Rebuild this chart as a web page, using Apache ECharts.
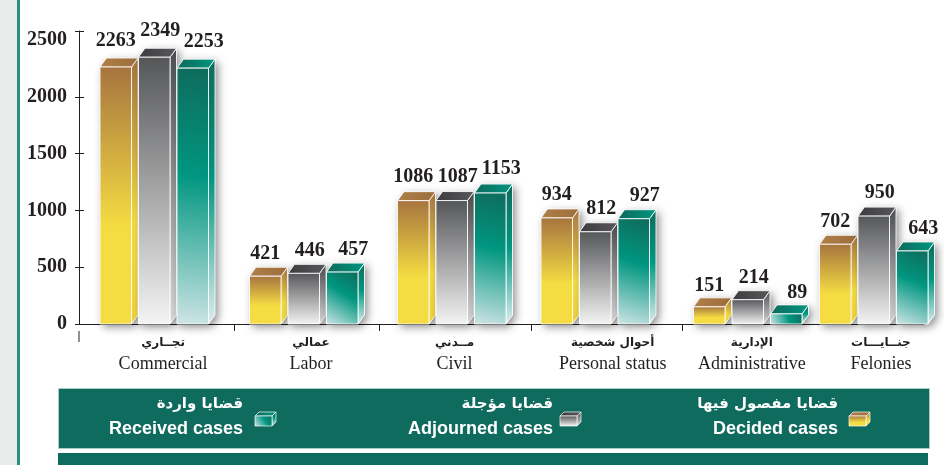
<!DOCTYPE html>
<html>
<head>
<meta charset="utf-8">
<style>html,body{margin:0;padding:0;background:#fff}#c{width:944px;height:465px}</style>
<script src="https://cdn.jsdelivr.net/npm/echarts@6/dist/echarts.min.js"></script>
</head>
<body>
<div id="c"></div>
<script>
const categoriesEn = ['Commercial','Labor','Civil','Personal status','Administrative','Felonies'];
const categoriesAr = ['تجــاري','عمالي','مــدني','أحوال شخصية','الإدارية','جنــايـــات'];
const decided   = [2263,421,1086,934,151,702];
const adjourned = [2349,446,1087,812,214,950];
const received  = [2253,457,1153,927,89,643];
const yTicks = [0,500,1000,1500,2000,2500];
const seriesEn = ['Decided cases','Adjourned cases','Received cases'];
const seriesAr = ['قضايا مفصول فيها','قضايا مؤجلة','قضايا واردة'];

const serif = '"Liberation Serif","Times New Roman",serif';
const arab = '"DejaVu Sans",sans-serif';
const ink = '#231F20';
const AXIS_TOP = 2580;
const slotNudge = [0,.03,.05,.04,.09,-.04];
const labelNudge = [.06,.08,.07,.16,.12,.01];
const slotTicks = [.55,1.55,2.6,3.64];
const valueLabelDx = [0,6,11];
const GAP = 38.5, W = 31.5, DX = 6.5, DY = 9;

const lin = (x,y,x2,y2,stops)=>({type:'linear',x,y,x2,y2,colorStops:stops.map(s=>({offset:s[0],color:s[1]}))});
const looks = [
 {front:lin(0,0,0,1,[[0,'#A6743F'],[.62,'#F5DC42'],[1,'#F5DC42']]),
  side:lin(0,0,0,1,[[0,'#A6743F'],[.62,'#F5DC42'],[1,'#F0D23C']]),
  top:lin(0,0,1,0,[[0,'#B08048'],[1,'#9C6C3C']])},
 {front:lin(0,0,0,1,[[0,'#555658'],[1,'#F4F4F4']]),
  side:lin(0,0,0,1,[[0,'#4B4C4E'],[1,'#D8D8DA']]),
  top:lin(0,0,1,0,[[0,'#3C3C3E'],[1,'#58585A']])},
 {front:lin(1,0,0,1,[[0,'#0F6B5C'],[.42,'#009680'],[1,'#CFE5E6']]),
  side:lin(0,0,0,1,[[0,'#0F6B5C'],[.45,'#009680'],[1,'#DDEEF0']]),
  top:lin(0,0,1,0,[[0,'#0E6A5C'],[1,'#009680']])}
];

function barItem(k){
  return function(params, api){
    const i = api.value(0), v = api.value(1);
    const p = api.coord([i + slotNudge[i], v]);
    const b = api.coord([i + slotNudge[i], 0]);
    const x = Math.round((p[0] + (k-1)*GAP - W/2)*2)/2, y = p[1], r = x + W, h = b[1]-y;
    const look = looks[k], edge = {stroke:'rgba(255,255,255,.85)', lineWidth:1};
    return {type:'group', children:[
      {type:'polygon', shape:{points:[[x,b[1]],[x,y],[x+DX,y-DY],[r+DX,y-DY],[r+DX,b[1]-DY],[r,b[1]]]},
       style:{fill:'#fff', shadowBlur:8, shadowColor:'rgba(0,0,0,.45)', shadowOffsetX:3, shadowOffsetY:3}},
      {type:'polygon', shape:{points:[[r,y],[r+DX,y-DY],[r+DX,b[1]-DY],[r,b[1]]]}, style:Object.assign({fill:look.side},edge)},
      {type:'polygon', shape:{points:[[x,y],[x+DX,y-DY],[r+DX,y-DY],[r,y]]}, style:Object.assign({fill:look.top},edge)},
      {type:'rect', shape:{x:x,y:y,width:W,height:h}, style:Object.assign({fill:look.front},edge)},
      {type:'text', x:x+W/2+valueLabelDx[k], y:y-21-v/400, style:{text:String(v), fill:ink, font:'bold 20px '+serif, align:'center', verticalAlign:'middle'}, z2:50}
    ]};
  };
}
const dataSets = [decided, adjourned, received];
const series = dataSets.map((vals,k)=>({
  type:'custom', name:seriesEn[k], coordinateSystem:'cartesian2d', xAxisIndex:0, yAxisIndex:0,
  data:vals.map((v,i)=>[i,v]), renderItem:barItem(k), clip:false, silent:true, animation:false, z:3+k
}));

function cube(x,y,k){
  const w=17,h=10,dx=4,dy=4,l=looks[k],e={stroke:'rgba(255,255,255,.85)',lineWidth:.8};
  return [
    {type:'polygon',shape:{points:[[x+w,y],[x+w+dx,y-dy],[x+w+dx,y+h-dy],[x+w,y+h]]},style:Object.assign({fill:l.side},e),z:12},
    {type:'polygon',shape:{points:[[x,y],[x+dx,y-dy],[x+w+dx,y-dy],[x+w,y]]},style:Object.assign({fill:l.top},e),z:12},
    {type:'rect',shape:{x:x,y:y,width:w,height:h},style:Object.assign({fill:l.front},e),z:12}
  ];
}
const legendRight = [838,553,243];
const legendCube = [849,560,255];
const graphics = [
  {type:'rect',shape:{x:0,y:0,width:17,height:465},style:{fill:'#E9EBEB'},z:0},
  {type:'rect',shape:{x:17,y:0,width:3,height:465},style:{fill:'#2A8F7E'},z:0},
  {type:'rect',shape:{x:58.5,y:388.5,width:871,height:60},style:{fill:'#0F6B5D',stroke:'#A9CFC8',lineWidth:1},z:10},
  {type:'rect',shape:{x:58,y:453,width:870,height:12},style:{fill:'#0F6B5D'},z:10},
  {type:'line',shape:{x1:79,y1:331,x2:79,y2:342},style:{stroke:ink,lineWidth:1},z:10}
];
seriesEn.forEach((n,k)=>{
  graphics.push({type:'text',x:legendRight[k],y:404,style:{text:seriesAr[k],fill:'#fff',font:'bold 15px '+arab,align:'right',verticalAlign:'middle'},z:12});
  graphics.push({type:'text',x:legendRight[k],y:429,style:{text:n,fill:'#fff',font:'bold 18px "Liberation Sans",Arial,sans-serif',align:'right',verticalAlign:'middle'},z:12});
  graphics.push(...cube(legendCube[k],416,k));
});

const axisLine = {lineStyle:{color:ink,width:1}};
const option = {
  animation:false,
  backgroundColor:'#fff',
  grid:{left:79,right:20,top:31,bottom:141,containLabel:false},
  xAxis:{type:'value',min:-0.52,max:5.307,splitLine:{show:false},
    axisLine:Object.assign({onZero:false},axisLine),
    axisTick:{show:true,length:7,customValues:slotTicks,lineStyle:{color:ink}},
    axisLabel:{show:true,customValues:categoriesEn.map((c,i)=>i+labelNudge[i]),hideOverlap:false,margin:9,showMinLabel:true,showMaxLabel:true,
      formatter:v=>{const i=labelNudge.findIndex((n,j)=>Math.abs(j+n-v)<.001);return i<0?'':'{ar|'+categoriesAr[i]+'}\n{en|'+categoriesEn[i]+'}';},
      rich:{ar:{fontFamily:arab,fontWeight:'bold',fontSize:12,color:ink,lineHeight:19,align:'center'},
            en:{fontFamily:serif,fontSize:18,color:ink,lineHeight:24,align:'center'}}}},
  yAxis:[
    {type:'value',min:0,max:AXIS_TOP,splitLine:{show:false},axisLine:Object.assign({show:true,onZero:false},axisLine),
     axisTick:{show:true,length:4,customValues:[0,500,1000,1500,2000,AXIS_TOP],lineStyle:{color:ink}},
     axisLabel:{customValues:yTicks,margin:12,showMaxLabel:true,color:ink,fontFamily:serif,fontWeight:'bold',fontSize:20,padding:[0,0,8,0],formatter:v=>String(v)}},
    {type:'value',position:'left',min:0,max:AXIS_TOP,splitLine:{show:false},axisLine:{show:false,onZero:false},
     axisTick:{show:true,inside:true,length:5,customValues:[500,1000,1500,2000,AXIS_TOP],lineStyle:{color:ink}},
     axisLabel:{show:false}}
  ],
  series:series,
  graphic:graphics
};
const chart = echarts.init(document.getElementById('c'),null,{renderer:'canvas'});
chart.setOption(option);
</script>
</body>
</html>
